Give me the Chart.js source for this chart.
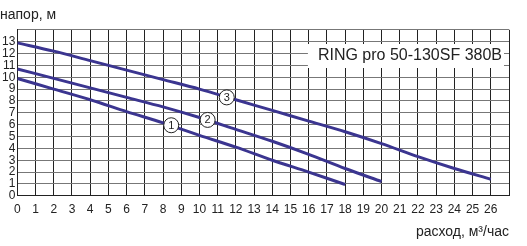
<!DOCTYPE html>
<html>
<head>
<meta charset="utf-8">
<script src="https://cdn.jsdelivr.net/npm/chart.js@4.4.0/dist/chart.umd.min.js"></script>
<style>
  html, body { margin: 0; padding: 0; background: #fff; }
  #wrap { width: 527px; height: 246px; }
</style>
</head>
<body>
<div id="wrap"><canvas id="myChart" width="527" height="246"></canvas></div>
<script>
  // расход, м3/час -> напор, м
  const flow1 = [0, 2, 4, 6, 8, 10, 12, 14, 16, 18];
  const head1 = [9.9, 9.0, 8.1, 7.1, 6.15, 5.1, 4.1, 3.0, 2.0, 0.95];

  const flow2 = [0, 2, 4, 6, 8, 10, 12, 14, 16, 18, 20];
  const head2 = [10.7, 9.9, 9.1, 8.3, 7.5, 6.6, 5.6, 4.6, 3.5, 2.3, 1.2];

  const flow3 = [0, 2, 4, 6, 8, 10, 12, 14, 16, 18, 20, 22, 24, 26];
  const head3 = [12.9, 12.2, 11.4, 10.6, 9.8, 9.0, 8.1, 7.2, 6.3, 5.4, 4.4, 3.3, 2.3, 1.4];

  // circled curve numbers
  const markNames = ["1", "2", "3"];
  const markFlow = [8.45, 10.45, 11.5];
  const markHead = [5.95, 6.4, 8.3];

  const xTicks = [0, 1, 2, 3, 4, 5, 6, 7, 8, 9, 10, 11, 12, 13, 14, 15, 16, 17, 18, 19, 20, 21, 22, 23, 24, 25, 26];
  const yTicks = [0, 1, 2, 3, 4, 5, 6, 7, 8, 9, 10, 11, 12, 13];

  const modelName = "RING pro 50-130SF 380B";
  const lineColor = "#3b3590";
  const fontName = "'Liberation Sans', Arial, sans-serif";

  function pts(xs, ys) {
    return xs.map(function (x, i) { return { x: x, y: ys[i] }; });
  }

  function curve(xs, ys) {
    return {
      data: pts(xs, ys),
      borderColor: lineColor,
      borderWidth: 3,
      pointRadius: 0,
      tension: 0.3,
      fill: false,
    };
  }

  // model name box + numbers in circles
  const extras = {
    id: "extras",
    afterDatasetsDraw(chart) {
      const c = chart.ctx;
      const xs = chart.scales.x, ys = chart.scales.y;
      c.save();

      c.font = "16px " + fontName;
      const w = c.measureText(modelName).width;
      const right = chart.chartArea.right - 5;
      c.fillStyle = "#fff";
      c.fillRect(right - w - 12, 44, w + 12, 24);
      c.fillStyle = "#222";
      c.textBaseline = "middle";
      c.textAlign = "right";
      c.fillText(modelName, right - 2, 56);

      c.font = "11px " + fontName;
      c.textAlign = "center";
      markNames.forEach(function (n, i) {
        const px = xs.getPixelForValue(markFlow[i]);
        const py = ys.getPixelForValue(markHead[i]);
        c.beginPath();
        c.arc(px, py, 7.5, 0, Math.PI * 2);
        c.fillStyle = "#fff";
        c.fill();
        c.lineWidth = 1;
        c.strokeStyle = "#222";
        c.stroke();
        c.fillStyle = "#222";
        c.fillText(n, px, py + 0.5);
      });
      c.restore();
    },
  };

  const ctx = document.getElementById("myChart");

  new Chart(ctx, {
    type: "line",
    data: {
      datasets: [curve(flow1, head1), curve(flow2, head2), curve(flow3, head3)],
    },
    options: {
      responsive: false,
      animation: false,
      layout: { padding: { left: 0, right: 18, top: 0, bottom: 5 } },
      plugins: {
        legend: { display: false },
        tooltip: { enabled: false },
        title: {
          display: true,
          text: "напор, м",
          align: "start",
          color: "#222",
          font: { family: fontName, size: 14, weight: "normal" },
          padding: { top: 7, bottom: 6 },
        },
      },
      scales: {
        x: {
          type: "linear",
          min: 0,
          max: 27,
          afterBuildTicks(axis) {
            axis.ticks = xTicks.concat([27]).map(function (v) { return { value: v }; });
          },
          ticks: {
            color: "#222",
            padding: 7,
            maxRotation: 0,
            autoSkip: false,
            font: { family: fontName, size: 12 },
            callback: function (v) { return xTicks.indexOf(v) >= 0 ? String(v) : ""; },
          },
          grid: { color: "#222", lineWidth: 1, drawTicks: false },
          border: { color: "#222", width: 1 },
          title: {
            display: true,
            text: "расход, м³/час",
            align: "end",
            color: "#222",
            font: { family: fontName, size: 14 },
            padding: { top: 0, bottom: 0 },
          },
        },
        y: {
          type: "linear",
          min: 0,
          max: 14,
          afterBuildTicks(axis) {
            axis.ticks = yTicks.concat([14]).map(function (v) { return { value: v }; });
          },
          ticks: {
            color: "#222",
            padding: 2,
            autoSkip: false,
            font: { family: fontName, size: 12 },
            callback: function (v) { return yTicks.indexOf(v) >= 0 ? String(v) : ""; },
          },
          grid: { color: "#777", lineWidth: 1, drawTicks: false },
          border: { color: "#222", width: 1 },
        },
      },
    },
    plugins: [extras],
  });
</script>
</body>
</html>
